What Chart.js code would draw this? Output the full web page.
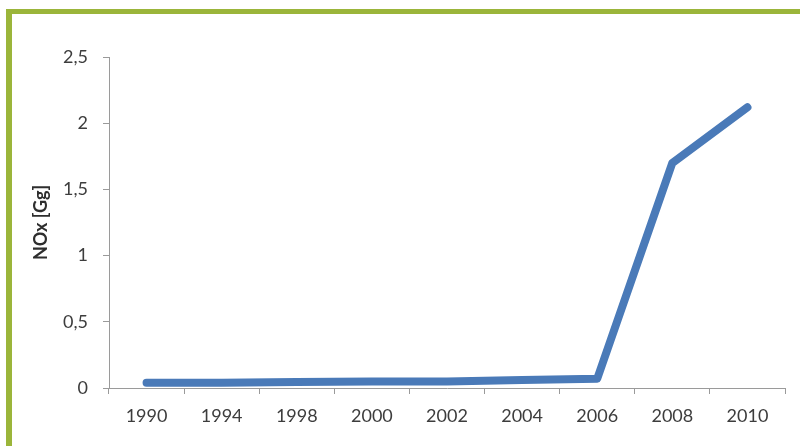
<!DOCTYPE html>
<html>
<head>
<meta charset="utf-8">
<script src="https://cdn.jsdelivr.net/npm/chart.js@4/dist/chart.umd.min.js"></script>
<style>
  html, body { margin: 0; padding: 0; background: #ffffff; overflow: hidden; }
  #wrap { position: relative; width: 800px; height: 446px; }
  canvas { position: absolute; left: 0; top: 0; }
  #frame {
    position: absolute; left: 6px; top: 9px; width: 900px; height: 600px;
    border-left: 6px solid #9bb53a; border-top: 5px solid #9bb53a;
    pointer-events: none;
  }
</style>
</head>
<body>
<div id="wrap">
  <canvas id="c" width="800" height="446"></canvas>
  <div id="frame"></div>
</div>
<script>
const years = ['1990', '1994', '1998', '2000', '2002', '2004', '2006', '2008', '2010'];
const noxValues = [0.04, 0.04, 0.045, 0.05, 0.05, 0.06, 0.07, 1.7, 2.12];
const yTicks = [0, 0.5, 1, 1.5, 2, 2.5];
const yTitle = 'NOx [Gg]';

const textColor = '#3d3d3d';
const axisColor = '#9a9a9a';
const fontFamily = 'Lato, "Open Sans", sans-serif';

new Chart(document.getElementById('c'), {
  type: 'line',
  data: {
    labels: years,
    datasets: [{
      data: noxValues,
      borderColor: '#4a7ab8',
      backgroundColor: '#4a7ab8',
      borderWidth: 8,
      pointRadius: 0,
      tension: 0,
      borderCapStyle: 'round',
      borderJoinStyle: 'round',
      fill: false
    }]
  },
  options: {
    responsive: false,
    devicePixelRatio: 1,
    animation: false,
    layout: { padding: { top: 57, right: 15, left: 0, bottom: 0 } },
    plugins: { legend: { display: false }, tooltip: { enabled: false } },
    scales: {
      x: {
        offset: true,
        grid: { drawOnChartArea: false, drawTicks: true, offset: true, tickLength: 6, color: axisColor },
        border: { color: axisColor, width: 1 },
        ticks: { color: textColor, font: { family: fontFamily, size: 18 }, padding: 11, maxRotation: 0, autoSkip: false },
        afterFit: (s) => { s.height = 58; }
      },
      y: {
        min: 0, max: 2.5,
        afterBuildTicks: (s) => { s.ticks = yTicks.map(v => ({ value: v })); },
        grid: { drawOnChartArea: false, drawTicks: true, tickLength: 6, color: axisColor },
        border: { color: axisColor, width: 1 },
        ticks: {
          color: textColor, font: { family: fontFamily, size: 18 }, padding: 15,
          callback: (v) => String(v).replace('.', ',')
        },
        title: {
          display: true, text: yTitle, color: '#2e2e2e',
          font: { family: fontFamily, size: 18, weight: 'bold' },
          padding: { top: 30, bottom: 0 }
        },
        afterFit: (s) => { s.width = 109; }
      }
    }
  }
});
</script>
</body>
</html>
